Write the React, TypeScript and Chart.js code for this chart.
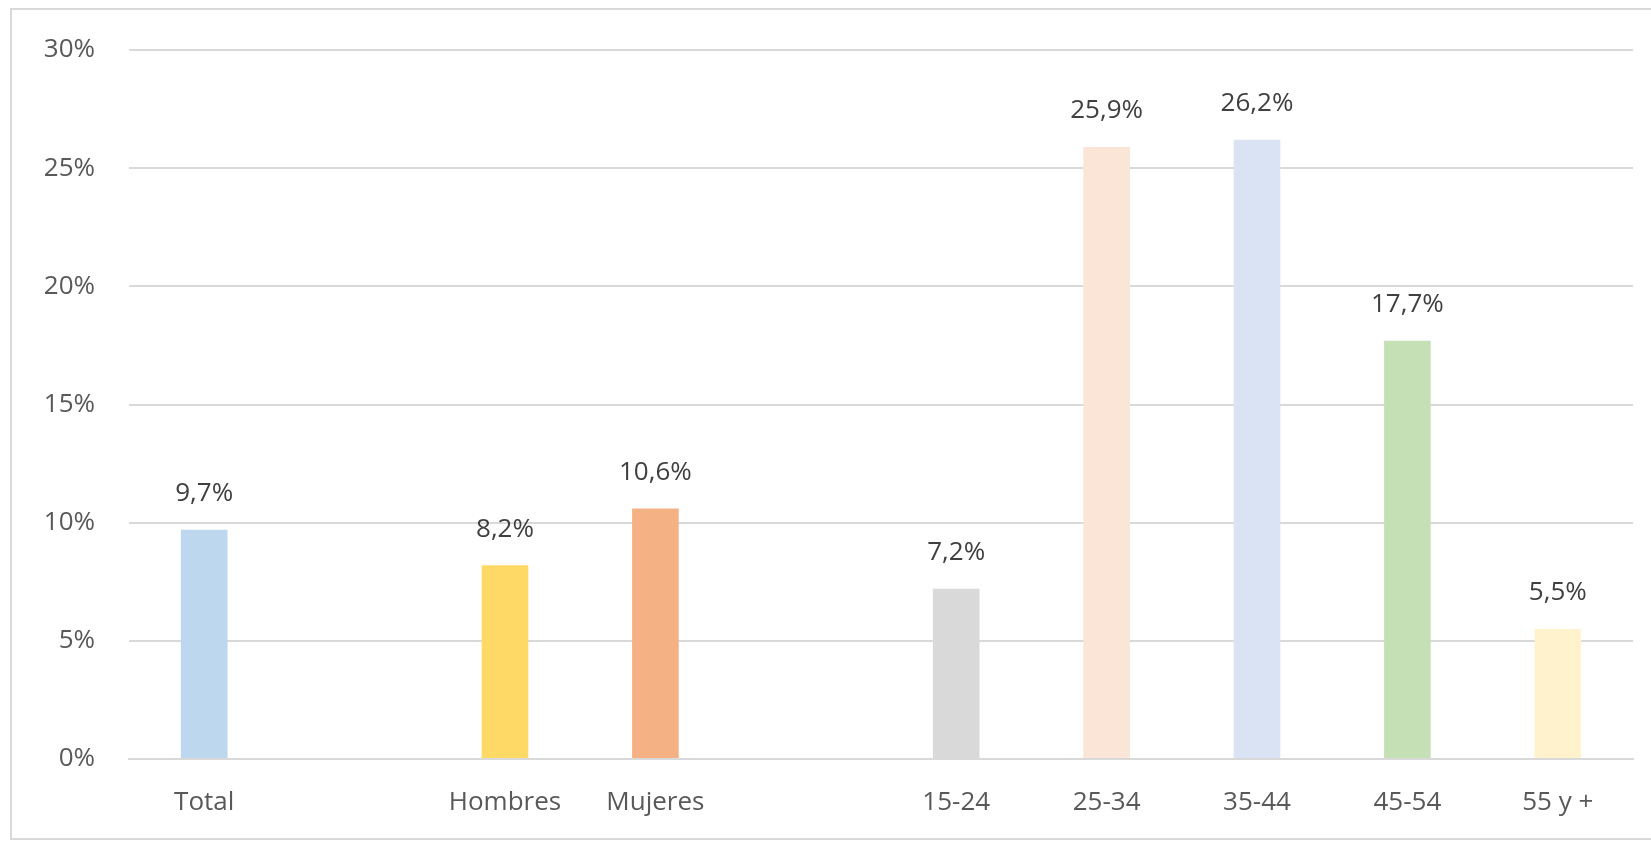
import { useEffect, useRef } from "react"
import { Chart, registerables } from "chart.js"

Chart.register(...registerables)

const categories = ["Total", "", "Hombres", "Mujeres", "", "15-24", "25-34", "35-44", "45-54", "55 y +"]
const values = [9.7, null, 8.2, 10.6, null, 7.2, 25.9, 26.2, 17.7, 5.5]
const colors = ["#bdd7ee", "#fff", "#ffd966", "#f4b183", "#fff", "#d9d9d9", "#fbe5d6", "#dae3f3", "#c5e0b4", "#fff2cc"]
const yTicks = [0, 5, 10, 15, 20, 25, 30]

const FONT = "'Open Sans', Lato, sans-serif"

const valueLabels = {
  id: "valueLabels",
  afterDatasetsDraw(chart: Chart) {
    const ctx = chart.ctx
    const meta = chart.getDatasetMeta(0)
    ctx.save()
    ctx.font = `26px ${FONT}`
    ctx.fillStyle = "#404040"
    ctx.textAlign = "center"
    ctx.textBaseline = "middle"
    meta.data.forEach((bar: any, i) => {
      const v = values[i]
      if (v == null) return
      ctx.fillText(v.toFixed(1).replace(".", ",") + "%", bar.x, bar.y - 36)
    })
    ctx.restore()
  },
}

export default function App() {
  const canvasRef = useRef<HTMLCanvasElement>(null)

  useEffect(() => {
    if (!canvasRef.current) return
    const chart = new Chart(canvasRef.current, {
      type: "bar",
      data: {
        labels: categories,
        datasets: [
          {
            data: values as any,
            backgroundColor: colors,
            barPercentage: 0.31,
            categoryPercentage: 1,
          },
        ],
      },
      options: {
        responsive: false,
        animation: false,
        layout: { padding: { top: 50, right: 18, left: 0, bottom: 0 } },
        plugins: { legend: { display: false }, tooltip: { enabled: false } },
        scales: {
          x: {
            grid: { display: false },
            border: { color: "#d9d9d9", width: 2 },
            ticks: { color: "#595959", font: { family: FONT, size: 26 }, padding: 20 },
            afterFit: (s: any) => { s.height = 82 },
          },
          y: {
            min: 0,
            max: 30,
            afterBuildTicks: (s: any) => { s.ticks = yTicks.map((v) => ({ value: v })) },
            grid: { color: "#d9d9d9", lineWidth: 2, drawTicks: false },
            border: { display: false },
            ticks: {
              color: "#595959",
              font: { family: FONT, size: 26 },
              padding: 34,
              callback: (v: any) => v + "%",
            },
            afterFit: (s: any) => { s.width = 129 },
          },
        },
      },
      plugins: [valueLabels],
    })
    return () => chart.destroy()
  }, [])

  return (
    <div style={{ position: "absolute", left: 0, top: 0, width: 1651, height: 841, background: "#fff" }}>
      <div style={{ position: "absolute", left: 10, top: 8, width: 1660, height: 828, border: "2px solid #d9d9d9" }} />
      <canvas ref={canvasRef} width={1651} height={841} style={{ position: "absolute", left: 0, top: 0 }} />
    </div>
  )
}
